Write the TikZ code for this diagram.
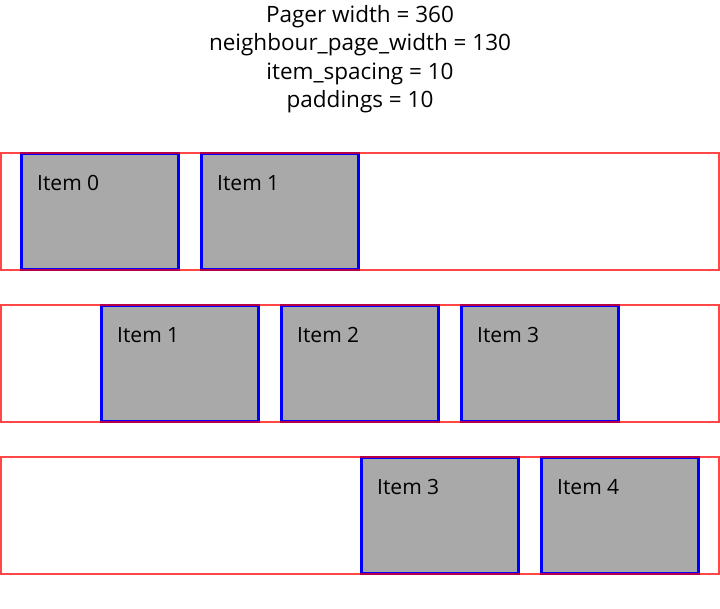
\documentclass[tikz,border=0pt]{standalone}
\usepackage{fontspec}
\setmainfont{Open Sans}
\begin{document}
\begin{tikzpicture}[x=1pt,y=-1pt,
  itembox/.style={draw=blue,fill={rgb,255:red,169;green,169;blue,169},line width=3pt,
    minimum width=157pt,minimum height=116pt,inner sep=0pt,rectangle},
  pagerframe/.style={draw=red,draw opacity=0.72,line width=2pt,
    minimum width=718pt,minimum height=117pt,inner sep=0pt,rectangle},
  itemlabel/.style={inner sep=0pt,anchor=base west,font=\fontsize{21}{25}\selectfont},
  header/.style={inner sep=0pt,anchor=base,font=\fontsize{22.5}{27}\selectfont}]
\useasboundingbox (0,0) rectangle (720,608);
\node[header] (h1) at (360,22) {Pager width = 360};
\node[header] (h2) at (360,50.5) {neighbour\_page\_width = 130};
\node[header] (h3) at (360,79) {item\_spacing = 10};
\node[header] (h4) at (360,107.5) {paddings = 10};
% row 0
\node[itembox] (r0i0) at (100,211.5) {};
\node[itemlabel] (r0l0) at (37,190) {Item 0};
\node[itembox] (r0i1) at (280,211.5) {};
\node[itemlabel] (r0l1) at (217,190) {Item 1};
\node[pagerframe] (p0) at (360,211.5) {};
% row 1
\node[itembox] (r1i1) at (180,363.5) {};
\node[itemlabel] (r1l1) at (117,342) {Item 1};
\node[itembox] (r1i2) at (360,363.5) {};
\node[itemlabel] (r1l2) at (297,342) {Item 2};
\node[itembox] (r1i3) at (540,363.5) {};
\node[itemlabel] (r1l3) at (477,342) {Item 3};
\node[pagerframe] (p1) at (360,363.5) {};
% row 2
\node[itembox] (r2i3) at (440,515.5) {};
\node[itemlabel] (r2l3) at (377,494) {Item 3};
\node[itembox] (r2i4) at (620,515.5) {};
\node[itemlabel] (r2l4) at (557,494) {Item 4};
\node[pagerframe] (p2) at (360,515.5) {};
\end{tikzpicture}
\end{document}
